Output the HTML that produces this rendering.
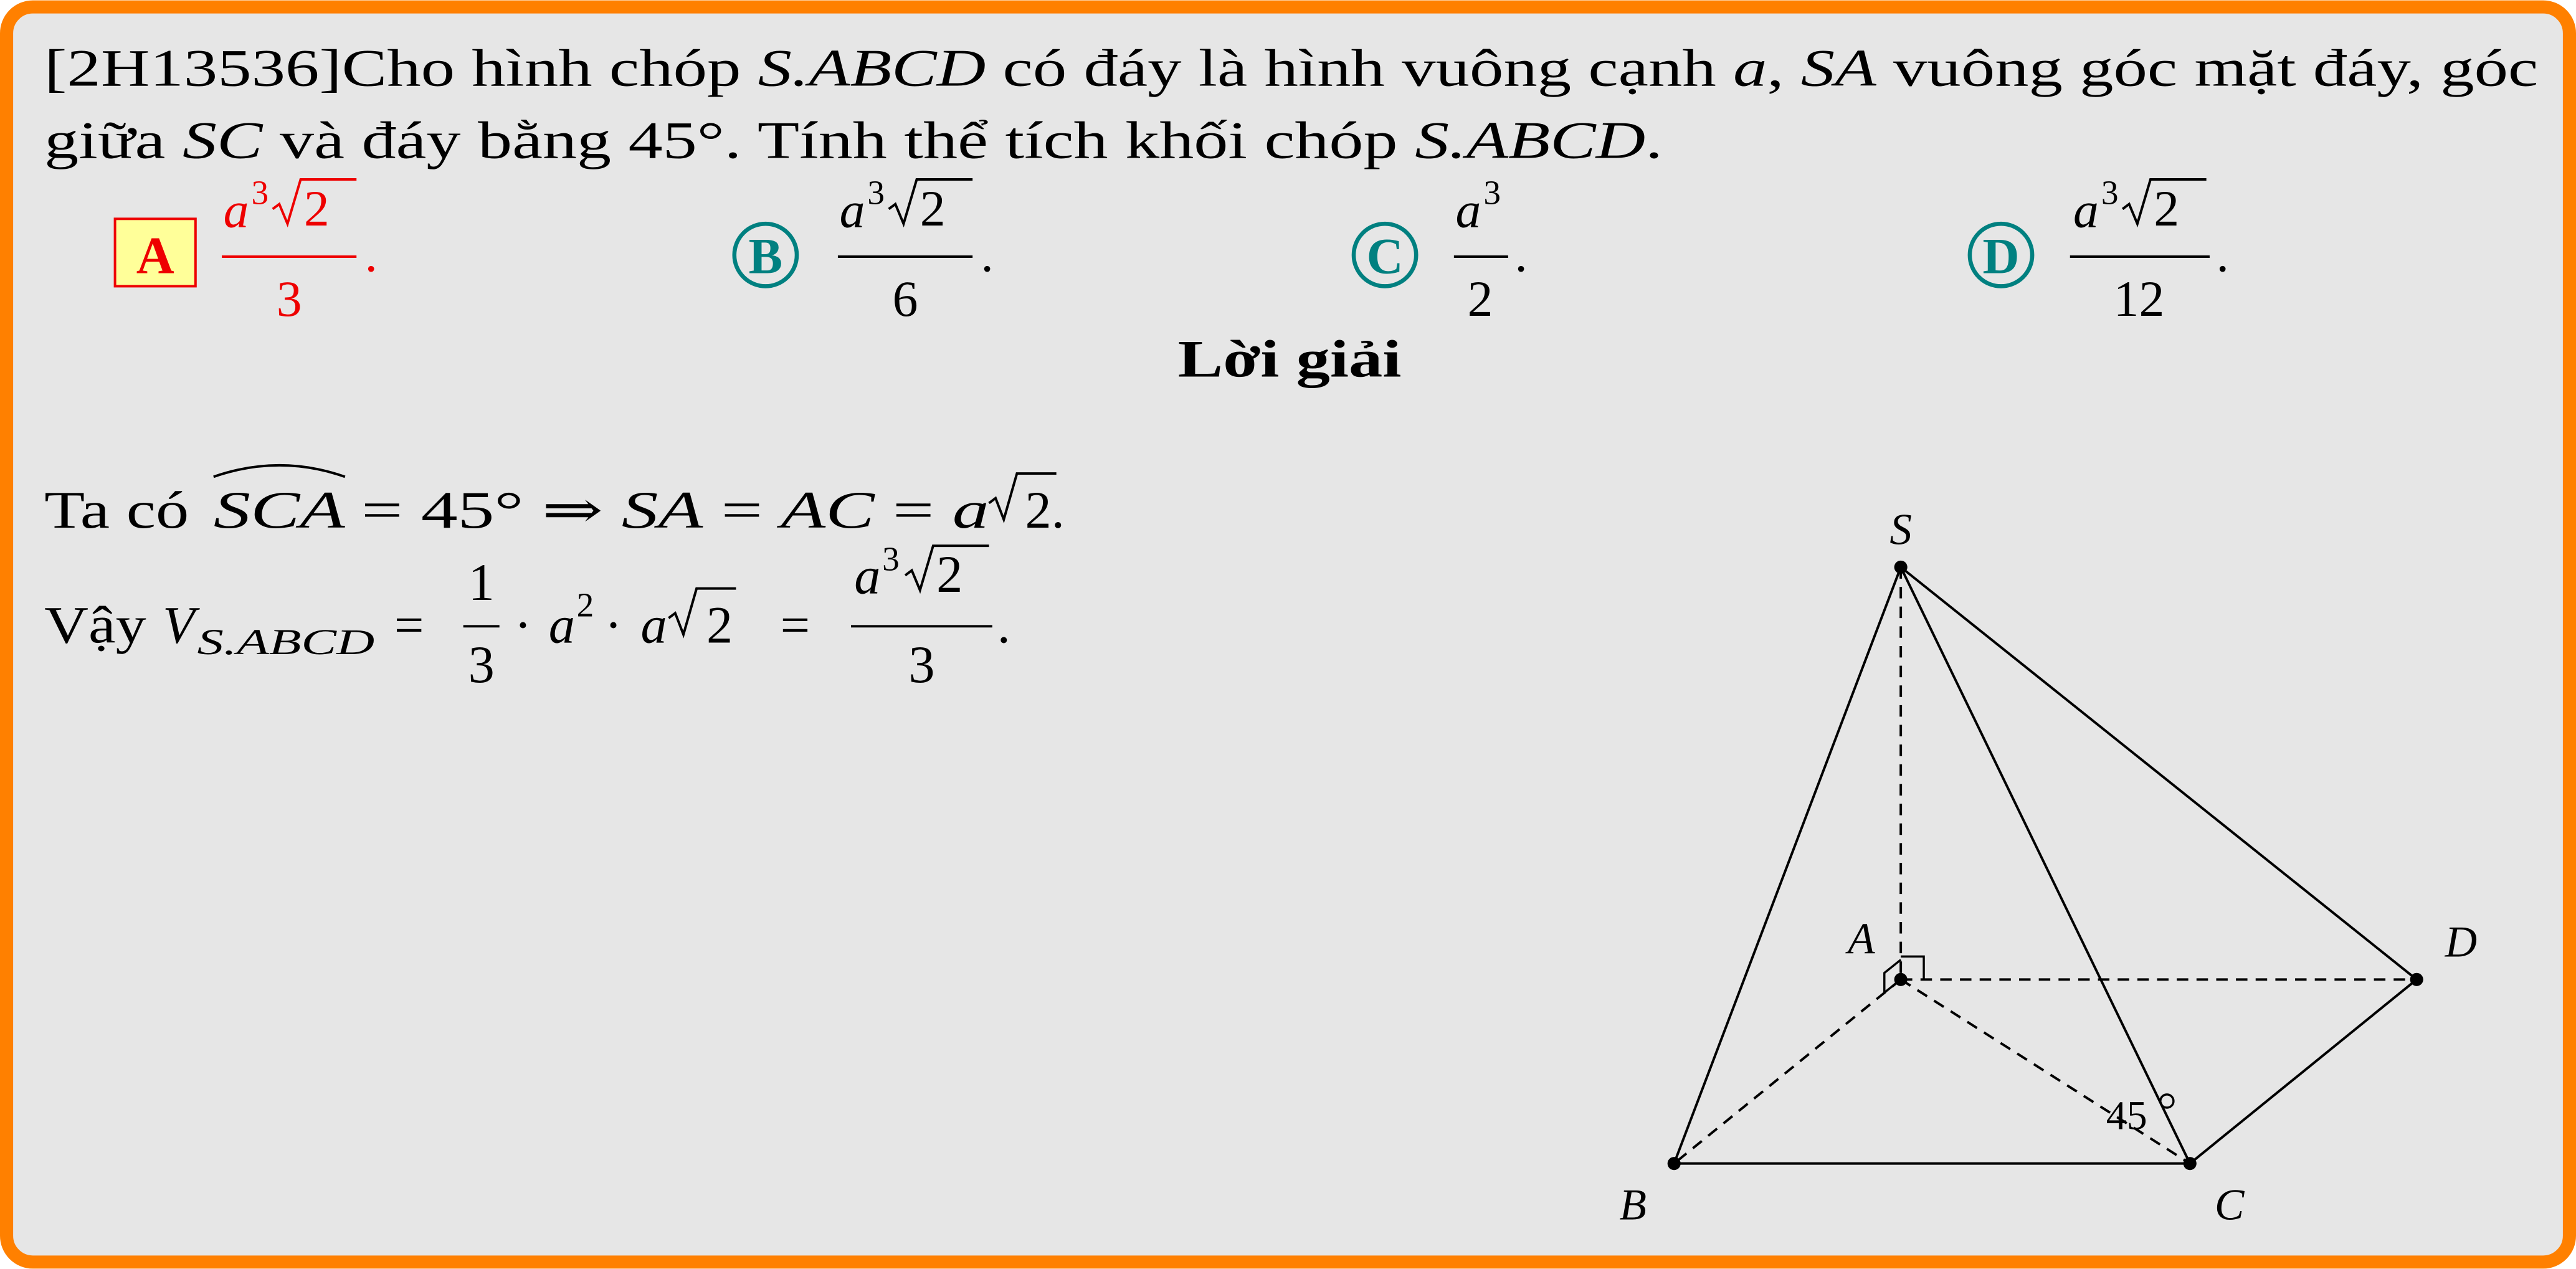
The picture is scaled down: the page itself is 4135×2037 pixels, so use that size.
<!DOCTYPE html>
<html><head><meta charset="utf-8"><style>
html,body{margin:0;padding:0;background:#fff;}
svg{display:block;}
text{font-family:"Liberation Serif","DejaVu Serif",serif;fill:#000;}
.i{font-style:italic;}
</style></head><body>
<svg width="4135" height="2037" viewBox="0 0 1568 772" xmlns="http://www.w3.org/2000/svg">
<rect x="4" y="4" width="1560" height="764" rx="16" ry="16" fill="#e6e6e6" stroke="#ff8000" stroke-width="8"/>
<g font-size="32">
<text x="27" y="52" textLength="1518" lengthAdjust="spacingAndGlyphs">[2H13536]Cho hình chóp <tspan class="i">S.ABCD</tspan> có đáy là hình vuông cạnh <tspan class="i">a</tspan>, <tspan class="i">SA</tspan> vuông góc mặt đáy, góc</text>
<text x="27" y="96" textLength="985" lengthAdjust="spacingAndGlyphs">giữa <tspan class="i">SC</tspan> và đáy bằng 45°. Tính thể tích khối chóp <tspan class="i">S.ABCD</tspan>.</text>
</g>
<g>
<rect x="70" y="133" width="49" height="41" fill="#ffff99" stroke="#e00" stroke-width="1.5"/>
<text x="94.5" y="166" text-anchor="middle" font-size="32" font-weight="bold" style="fill:#e00">A</text>
<g style="fill:#e00" stroke="#e00">
<text x="136" y="138" font-size="31" class="i" stroke="none" style="fill:#e00">a</text>
<text x="153" y="124" font-size="21" stroke="none" style="fill:#e00">3</text>
<path d="M166 127 l4 -3 l5 12 l8 -27 h34" fill="none" stroke-width="1.5"/>
<text x="185" y="137" font-size="31" stroke="none" style="fill:#e00">2</text>
<line x1="135" y1="156" x2="217" y2="156" stroke-width="1.5"/>
<text x="176" y="192" font-size="31" text-anchor="middle" stroke="none" style="fill:#e00">3</text>
<text x="222" y="165" font-size="31" stroke="none" style="fill:#e00">.</text>
</g></g>
<g>
<circle cx="466" cy="155" r="19" fill="none" stroke="#008080" stroke-width="2.5"/>
<text x="466" y="166" text-anchor="middle" font-size="31" font-weight="bold" style="fill:#008080">B</text>
<text x="511" y="138" font-size="31" class="i">a</text><text x="528" y="124" font-size="21">3</text>
<path d="M541 127 l4 -3 l5 12 l8 -27 h34" fill="none" stroke="#000" stroke-width="1.5"/>
<text x="560" y="137" font-size="31">2</text>
<line x1="510" y1="156" x2="592" y2="156" stroke="#000" stroke-width="1.5"/>
<text x="551" y="192" font-size="31" text-anchor="middle">6</text>
<text x="597" y="165" font-size="31">.</text>
</g>
<g>
<circle cx="843" cy="155" r="19" fill="none" stroke="#008080" stroke-width="2.5"/>
<text x="843" y="166" text-anchor="middle" font-size="31" font-weight="bold" style="fill:#008080">C</text>
<text x="886" y="138" font-size="31" class="i">a</text><text x="903" y="124" font-size="21">3</text>
<line x1="885" y1="156" x2="918" y2="156" stroke="#000" stroke-width="1.5"/>
<text x="901" y="192" font-size="31" text-anchor="middle">2</text>
<text x="922" y="165" font-size="31">.</text>
</g>
<g>
<circle cx="1218" cy="155" r="19" fill="none" stroke="#008080" stroke-width="2.5"/>
<text x="1218" y="166" text-anchor="middle" font-size="31" font-weight="bold" style="fill:#008080">D</text>
<text x="1262" y="138" font-size="31" class="i">a</text><text x="1279" y="124" font-size="21">3</text>
<path d="M1292 127 l4 -3 l5 12 l8 -27 h34" fill="none" stroke="#000" stroke-width="1.5"/>
<text x="1311" y="137" font-size="31">2</text>
<line x1="1260" y1="156" x2="1345" y2="156" stroke="#000" stroke-width="1.5"/>
<text x="1302" y="192" font-size="31" text-anchor="middle">12</text>
<text x="1349" y="165" font-size="31">.</text>
</g>
<text x="785" y="229" text-anchor="middle" font-size="32" font-weight="bold" textLength="136" lengthAdjust="spacingAndGlyphs">Lời giải</text>
<g font-size="32">
<text x="27" y="321" textLength="88" lengthAdjust="spacingAndGlyphs">Ta có</text>
<text x="130" y="321" class="i" textLength="80" lengthAdjust="spacingAndGlyphs">SCA</text>
<path d="M130 290 Q170 276 210 290" fill="none" stroke="#000" stroke-width="1.5"/>
<text x="220" y="321" textLength="382" lengthAdjust="spacingAndGlyphs">= 45° ⇒ <tspan class="i">SA</tspan> = <tspan class="i">AC</tspan> = <tspan class="i">a</tspan></text>
<path d="M602 306 l4 -3 l5 13 l8 -28 h24" fill="none" stroke="#000" stroke-width="1.5"/>
<text x="624" y="321">2.</text>
</g>
<g font-size="32">
<text x="27" y="391" textLength="62" lengthAdjust="spacingAndGlyphs">Vậy</text>
<text x="99" y="391" class="i">V</text>
<text x="120" y="398" font-size="22" class="i" textLength="108" lengthAdjust="spacingAndGlyphs">S.ABCD</text>
<text x="240" y="391">=</text>
<text x="293" y="365" text-anchor="middle">1</text>
<line x1="282" y1="381" x2="304" y2="381" stroke="#000" stroke-width="1.5"/>
<text x="293" y="415" text-anchor="middle">3</text>
<text x="313" y="391">·</text>
<text x="334" y="391" class="i">a</text>
<text x="351" y="375" font-size="21">2</text>
<text x="368" y="391">·</text>
<text x="390" y="391" class="i">a</text>
<path d="M407 376 l4 -3 l5 13 l8 -28 h24" fill="none" stroke="#000" stroke-width="1.5"/>
<text x="430" y="391">2</text>
<text x="475" y="391">=</text>
<text x="520" y="361" class="i">a</text><text x="537" y="347" font-size="21">3</text>
<path d="M551 350 l4 -3 l5 12 l8 -27 h34" fill="none" stroke="#000" stroke-width="1.5"/>
<text x="570" y="360">2</text>
<line x1="518" y1="381" x2="604" y2="381" stroke="#000" stroke-width="1.5"/>
<text x="561" y="415" text-anchor="middle">3</text>
<text x="607" y="391">.</text>
</g>
<g stroke="#000" stroke-width="1.5" fill="none">
<g stroke-dasharray="7 5">
<line x1="1157" y1="345" x2="1157" y2="596"/>
<line x1="1157" y1="596" x2="1471" y2="596"/>
<line x1="1157" y1="596" x2="1019" y2="708"/>
<line x1="1157" y1="596" x2="1333" y2="708"/>
</g>
<g>
<line x1="1157" y1="345" x2="1019" y2="708"/>
<line x1="1157" y1="345" x2="1333" y2="708"/>
<line x1="1157" y1="345" x2="1471" y2="596"/>
<line x1="1019" y1="708" x2="1333" y2="708"/>
<line x1="1333" y1="708" x2="1471" y2="596"/>
</g>
<path d="M1157 582 h14 v14 M1147 604 l0 -12 l10 -8 M1147 604 l10 -8" stroke-width="1.3"/>
<circle cx="1319" cy="670" r="4" stroke-width="1.3"/>
</g>
<g fill="#000">
<circle cx="1157" cy="345" r="4"/><circle cx="1157" cy="596" r="4"/><circle cx="1471" cy="596" r="4"/>
<circle cx="1019" cy="708" r="4"/><circle cx="1333" cy="708" r="4"/>
</g>
<g font-size="27">
<text x="1157" y="331" text-anchor="middle" class="i">S</text>
<text x="1133" y="580" text-anchor="middle" class="i">A</text>
<text x="1498" y="582" text-anchor="middle" class="i">D</text>
<text x="994" y="742" text-anchor="middle" class="i">B</text>
<text x="1357" y="742" text-anchor="middle" class="i">C</text>
</g>
<text x="1282" y="687" font-size="25">45</text>
</svg>
</body></html>
